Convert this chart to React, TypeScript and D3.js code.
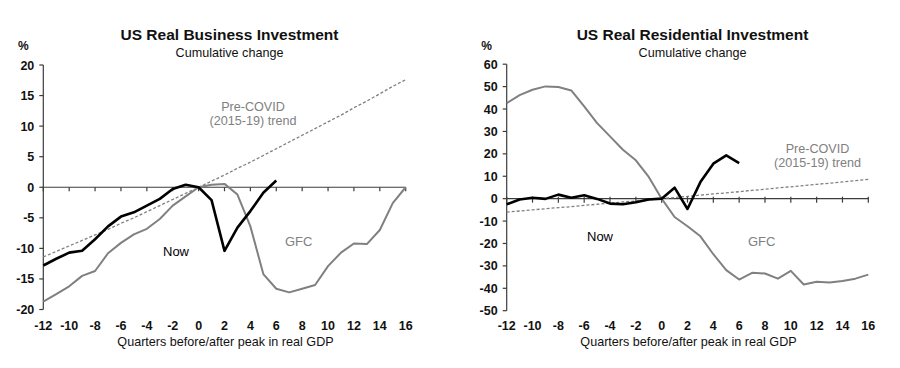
import * as d3 from 'd3';

const quarters = d3.range(-12, 17);
const xTicks = d3.range(-12, 17, 2);

// US Real Business Investment (cumulative % change)
const busNow = [-12.8, -11.7, -10.7, -10.4, -8.5, -6.4, -4.8, -4.1, -3.0, -1.9, -0.3, 0.4, 0, -2.1, -10.4, -6.6, -3.9, -0.9, 1.1];
const busGfc = [-18.7, -17.5, -16.2, -14.5, -13.7, -10.8, -9.1, -7.7, -6.8, -5.2, -3.0, -1.5, 0, 0.4, 0.55, -1.2, -6.4, -14.2, -16.6, -17.2, -16.6, -16.0, -12.9, -10.7, -9.2, -9.3, -7.0, -2.6, 0];
const busTrend = [-11.4, -10.5, -9.6, -8.7, -7.8, -6.9, -5.9, -5.0, -4.0, -3.0, -2.0, -1.0, 0, 1.0, 2.0, 3.1, 4.1, 5.2, 6.3, 7.4, 8.5, 9.6, 10.7, 11.8, 13.0, 14.1, 15.3, 16.5, 17.6];
const busYTicks = [20, 15, 10, 5, 0, -5, -10, -15, -20];

// US Real Residential Investment (cumulative % change)
const resNow = [-2.5, -0.4, 0.4, -0.1, 1.8, 0.4, 1.5, -0.1, -2.2, -2.5, -1.6, -0.4, 0, 4.9, -4.6, 7.4, 15.6, 19.3, 15.9];
const resGfc = [42.6, 46.2, 48.6, 50.1, 49.8, 48.3, 41.2, 33.7, 27.8, 21.8, 17.1, 9.7, 0, -8.2, -12.3, -16.8, -24.8, -31.9, -36.1, -33.1, -33.4, -35.7, -32.2, -38.3, -37.1, -37.4, -36.7, -35.7, -33.9];
const resTrend = [-6.0, -5.5, -5.0, -4.5, -4.0, -3.6, -3.0, -2.5, -2.0, -1.5, -1.0, -0.5, 0, 0.5, 1.0, 1.6, 2.1, 2.6, 3.1, 3.7, 4.2, 4.8, 5.3, 5.8, 6.4, 6.9, 7.5, 8.0, 8.6];
const resYTicks = [60, 50, 40, 30, 20, 10, 0, -10, -20, -30, -40, -50];

const FONT = "'Liberation Sans', Arial, sans-serif";
const GRAY = '#808080';
const AXIS = '#3c3c3c';

interface PanelProps {
  title: string;
  x0: number;
  x1: number;
  yTop: number;
  yBottom: number;
  yDomain: [number, number];
  yTicks: number[];
  now: number[];
  gfc: number[];
  trend: number[];
  trendLabel: [number, number];
  nowLabel: [number, number];
  gfcLabel: [number, number];
  tickUp: number;
}

function Panel(p: PanelProps) {
  const x = d3.scaleLinear().domain([-12, 16]).range([p.x0, p.x1]);
  const y = d3.scaleLinear().domain(p.yDomain).range([p.yBottom, p.yTop]);
  const line = d3.line<number>().x((_, i) => x(quarters[i])).y((d) => y(d));
  const cx = (p.x0 + p.x1) / 2;
  const y0 = y(0);

  return (
    <g fontFamily={FONT}>
      <text x={cx + 5} y={40} textAnchor="middle" fontSize={15.5} fontWeight="bold" fill="#111">{p.title}</text>
      <text x={cx + 5} y={56.5} textAnchor="middle" fontSize={12.6} fill="#111">Cumulative change</text>
      <text x={p.x0 - 20} y={50} textAnchor="middle" fontSize={12} fontWeight="bold" fill="#111">%</text>

      {/* y axis */}
      <line x1={p.x0} x2={p.x0} y1={p.yTop} y2={p.yBottom} stroke={AXIS} strokeWidth={1.2} />
      {p.yTicks.map((t) => (
        <g key={t}>
          <line x1={p.x0 - 4} x2={p.x0} y1={y(t)} y2={y(t)} stroke={AXIS} strokeWidth={1.2} />
          <text x={p.x0 - 9} y={y(t) + 4.5} textAnchor="end" fontSize={12.5} fontWeight="bold" fill="#111">{t}</text>
        </g>
      ))}

      {/* zero line with quarter ticks */}
      <line x1={p.x0} x2={p.x1} y1={y0} y2={y0} stroke={AXIS} strokeWidth={1.2} />
      {xTicks.map((t) => (
        <line key={t} x1={x(t)} x2={x(t)} y1={y0 - p.tickUp} y2={y0 + 4} stroke={AXIS} strokeWidth={1.2} />
      ))}
      {xTicks.map((t) => (
        <text key={t} x={x(t)} y={330} textAnchor="middle" fontSize={12.5} fontWeight="bold" fill="#111">{t}</text>
      ))}
      <text x={cx + 1} y={346} textAnchor="middle" fontSize={12.6} fill="#111">Quarters before/after peak in real GDP</text>

      {/* series */}
      <path d={line(p.trend) ?? ''} fill="none" stroke={GRAY} strokeWidth={1.3} strokeDasharray="3,2" />
      <path d={line(p.gfc) ?? ''} fill="none" stroke={GRAY} strokeWidth={2} strokeLinejoin="round" />
      <path d={line(p.now) ?? ''} fill="none" stroke="#000" strokeWidth={2.6} strokeLinejoin="round" />

      {/* annotations */}
      <text x={p.trendLabel[0]} y={p.trendLabel[1]} textAnchor="middle" fontSize={12.6} fill={GRAY}>Pre-COVID</text>
      <text x={p.trendLabel[0]} y={p.trendLabel[1] + 14} textAnchor="middle" fontSize={12.6} fill={GRAY}>(2015-19) trend</text>
      <text x={p.nowLabel[0]} y={p.nowLabel[1]} fontSize={13} fill="#000">Now</text>
      <text x={p.gfcLabel[0]} y={p.gfcLabel[1]} fontSize={13} fill={GRAY}>GFC</text>
    </g>
  );
}

export default function App() {
  return (
    <svg width={900} height={368} style={{ position: 'absolute', left: 0, top: 0, background: '#fff' }}>
      <rect width={900} height={368} fill="#fff" />
      <Panel
        title="US Real Business Investment"
        x0={43.3}
        x1={405.7}
        yTop={65}
        yBottom={309.5}
        yDomain={[-20, 20]}
        yTicks={busYTicks}
        now={busNow}
        gfc={busGfc}
        trend={busTrend}
        trendLabel={[253, 110.5]}
        nowLabel={[163, 256]}
        gfcLabel={[285, 245.5]}
        tickUp={0}
      />
      <Panel
        title="US Real Residential Investment"
        x0={506.7}
        x1={868.3}
        yTop={64.2}
        yBottom={310.7}
        yDomain={[-50, 60]}
        yTicks={resYTicks}
        now={resNow}
        gfc={resGfc}
        trend={resTrend}
        trendLabel={[817.5, 153]}
        nowLabel={[587, 240.5]}
        gfcLabel={[748, 245.5]}
        tickUp={2}
      />
    </svg>
  );
}
